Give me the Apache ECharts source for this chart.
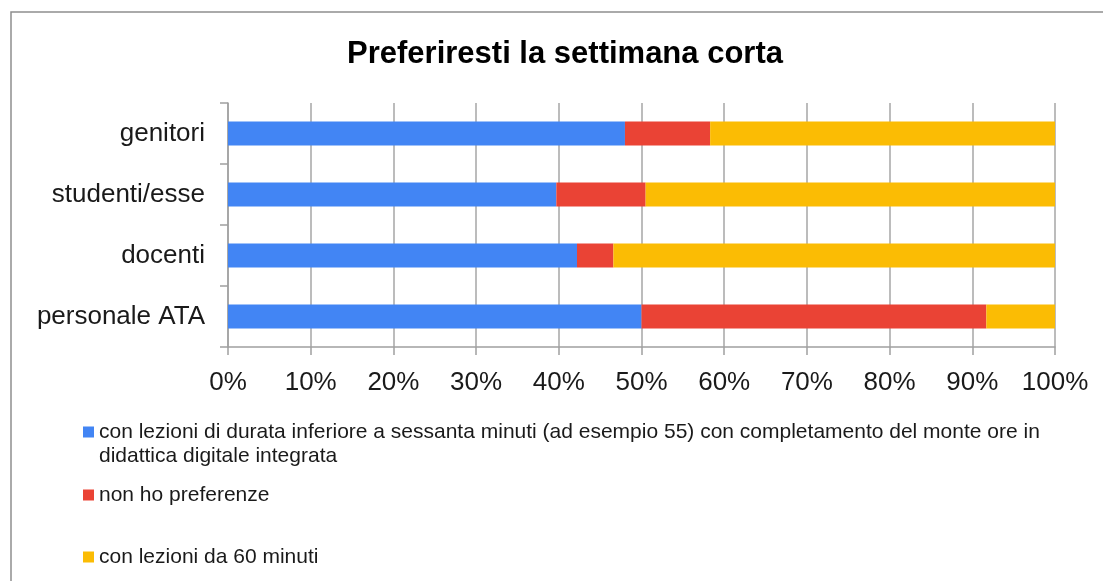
<!DOCTYPE html>
<html>
<head>
<meta charset="utf-8">
<script src="https://cdn.jsdelivr.net/npm/echarts@6/dist/echarts.min.js"></script>
<style>
  html, body { margin: 0; padding: 0; background: #fff; }
  #chart { width: 1103px; height: 581px; }
</style>
</head>
<body>
<div id="chart"></div>
<script>
// categories, top to bottom
const categories = ["genitori", "studenti/esse", "docenti", "personale ATA"];
const seriesNames = [
  "con lezioni di durata inferiore a sessanta minuti (ad esempio 55) con completamento del monte ore in didattica digitale integrata",
  "non ho preferenze",
  "con lezioni da 60 minuti"
];
// percent values
const shortLessons = [48.0, 39.7, 42.2, 50.0];
const noPreference = [10.3, 10.8, 4.4, 41.7];
const lessons60 = [41.7, 49.5, 53.4, 8.3];
const xTicks = [0, 10, 20, 30, 40, 50, 60, 70, 80, 90, 100];

const colors = ["#4285f4", "#ea4335", "#fbbc04"];
const font = "'Liberation Sans', Arial, sans-serif";

const myChart = echarts.init(document.getElementById("chart"));

const legendText = {
  color: "#1a1a1a",
  fontFamily: font,
  fontSize: 21,
  lineHeight: 24
};

function makeSeries(name, data, color) {
  return {
    name: name,
    type: "bar",
    stack: "total",
    barWidth: 24,
    data: data,
    itemStyle: { color: color },
    emphasis: { disabled: true }
  };
}

const option = {
  animation: false,
  backgroundColor: "#fff",
  color: colors,
  title: {
    text: "Preferiresti la settimana corta",
    left: 560,
    top: 34,
    textAlign: "center",
    textStyle: {
      color: "#000",
      fontFamily: font,
      fontSize: 31,
      fontWeight: "bold"
    }
  },
  graphic: [
    {
      type: "rect",
      shape: { x: 11, y: 12, width: 1200, height: 700 },
      style: { fill: null, stroke: "#8e8e8e", lineWidth: 1.5 },
      silent: true
    }
  ],
  legend: [
    {
      // tall icon box so the square sits beside the first of two text lines
      data: [seriesNames[0]],
      left: 83,
      top: 420,
      padding: 0,
      itemWidth: 11,
      itemHeight: 35,
      icon: "path://M0,0h11v11h-11zM0,35h0.01v0.01h-0.01z",
      selectedMode: false,
      formatter: function (name) {
        return name.replace(" didattica", "\ndidattica");
      },
      textStyle: legendText
    },
    {
      data: [seriesNames[1]],
      left: 83,
      top: 483,
      padding: 0,
      itemWidth: 11,
      itemHeight: 11,
      icon: "rect",
      selectedMode: false,
      textStyle: legendText
    },
    {
      data: [seriesNames[2]],
      left: 83,
      top: 545,
      padding: 0,
      itemWidth: 11,
      itemHeight: 11,
      icon: "rect",
      selectedMode: false,
      textStyle: legendText
    }
  ],
  grid: {
    left: 228,
    right: 48,
    top: 103,
    bottom: 234,
    containLabel: false
  },
  xAxis: {
    type: "value",
    min: xTicks[0],
    max: xTicks[xTicks.length - 1],
    interval: 10,
    axisLine: { show: true, lineStyle: { color: "#a0a0a0", width: 1.5 } },
    axisTick: { show: true, length: 8, lineStyle: { color: "#a0a0a0", width: 1.5 } },
    splitLine: { show: true, lineStyle: { color: "#a6a6a6", width: 1.5 } },
    axisLabel: {
      margin: 23,
      color: "#1a1a1a",
      fontFamily: font,
      fontSize: 26,
      formatter: "{value}%"
    }
  },
  yAxis: {
    type: "category",
    data: categories,
    inverse: true,
    axisLine: { show: true, lineStyle: { color: "#a0a0a0", width: 1.5 } },
    axisTick: { show: true, length: 8, lineStyle: { color: "#a0a0a0", width: 1.5 } },
    splitLine: { show: false },
    axisLabel: {
      margin: 23,
      color: "#1a1a1a",
      fontFamily: font,
      fontSize: 26
    }
  },
  series: [
    makeSeries(seriesNames[0], shortLessons, colors[0]),
    makeSeries(seriesNames[1], noPreference, colors[1]),
    makeSeries(seriesNames[2], lessons60, colors[2])
  ]
};

myChart.setOption(option);
</script>
</body>
</html>
